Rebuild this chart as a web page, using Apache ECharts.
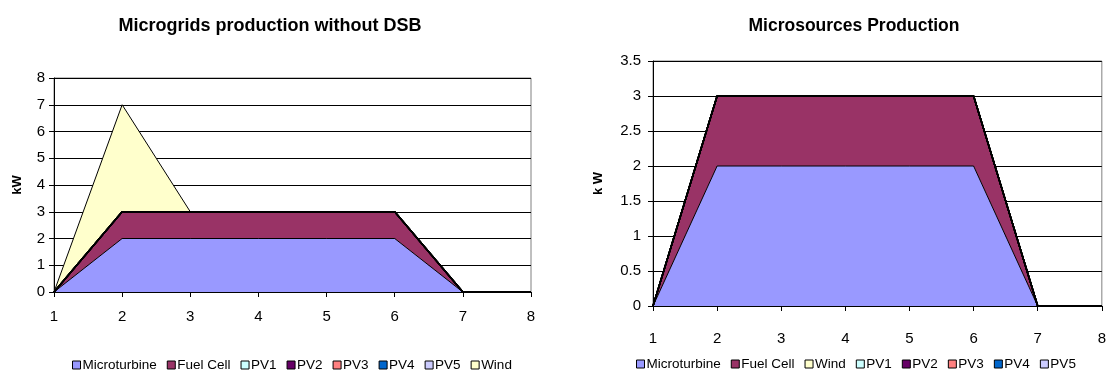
<!DOCTYPE html>
<html>
<head>
<meta charset="utf-8">
<script src="https://cdn.jsdelivr.net/npm/echarts@6/dist/echarts.min.js"></script>
<style>
  html, body { margin: 0; padding: 0; background: #fff; }
  #main { width: 1109px; height: 375px; }
</style>
</head>
<body>
<div id="main"></div>
<script>
// x categories (time steps)
const steps = ['1', '2', '3', '4', '5', '6', '7', '8'];

// left chart: Microgrids production without DSB
const microturbineL = [0, 2, 2, 2, 2, 2, 0, 0];
const fuelCellL = [0, 1, 1, 1, 1, 1, 0, 0];
const pv1L = [0, 0, 0, 0, 0, 0, 0, 0];
const pv2L = [0, 0, 0, 0, 0, 0, 0, 0];
const pv3L = [0, 0, 0, 0, 0, 0, 0, 0];
const pv4L = [0, 0, 0, 0, 0, 0, 0, 0];
const pv5L = [0, 0, 0, 0, 0, 0, 0, 0];
const windL = [0, 4, 0, 0, 0, 0, 0, 0];

// right chart: Microsources Production
const microturbineR = [0, 2, 2, 2, 2, 2, 0, 0];
const fuelCellR = [0, 1, 1, 1, 1, 1, 0, 0];
const windR = [0, 0, 0, 0, 0, 0, 0, 0];
const pv1R = [0, 0, 0, 0, 0, 0, 0, 0];
const pv2R = [0, 0, 0, 0, 0, 0, 0, 0];
const pv3R = [0, 0, 0, 0, 0, 0, 0, 0];
const pv4R = [0, 0, 0, 0, 0, 0, 0, 0];
const pv5R = [0, 0, 0, 0, 0, 0, 0, 0];

const legendLeft = ['Microturbine', 'Fuel Cell', 'PV1', 'PV2', 'PV3', 'PV4', 'PV5', 'Wind'];
const legendRight = ['Microturbine', 'Fuel Cell', 'Wind', 'PV1', 'PV2', 'PV3', 'PV4', 'PV5'];

const colors = {
  'Microturbine': '#9999FF',
  'Fuel Cell': '#993366',
  'PV1': '#CCFFFF',
  'PV2': '#660066',
  'PV3': '#FF8080',
  'PV4': '#0066CC',
  'PV5': '#CCCCFF',
  'Wind': '#FFFFCC'
};

const FONT = '"Liberation Sans", Arial, sans-serif';

function area(name, data, idx, stack, lw) {
  return {
    name: name,
    type: 'line',
    data: data,
    xAxisIndex: idx,
    yAxisIndex: idx,
    stack: stack,
    symbol: 'none',
    color: colors[name],
    itemStyle: { color: colors[name] },
    lineStyle: { color: '#000', width: lw || 1 },
    areaStyle: { color: colors[name], opacity: 1 },
    emphasis: { disabled: true },
    animation: false
  };
}

function xAxis(idx) {
  return {
    type: 'category',
    gridIndex: idx,
    data: steps,
    boundaryGap: false,
    axisLine: { lineStyle: { color: '#000', width: 1 } },
    axisTick: { show: true, length: 5, lineStyle: { color: '#000' } },
    axisLabel: { color: '#000', fontSize: 15, fontFamily: FONT, margin: idx === 0 ? 17 : 25 },
    splitLine: { show: false }
  };
}

function yAxis(idx, max, interval) {
  return {
    type: 'value',
    gridIndex: idx,
    min: 0,
    max: max,
    interval: interval,
    name: idx === 0 ? 'kW' : 'k W',
    nameLocation: 'middle',
    nameRotate: 90,
    nameGap: idx === 0 ? 30 : 48,
    nameTextStyle: { color: '#000', fontSize: 13, fontWeight: 'bold', fontFamily: FONT },
    axisLine: { show: true, lineStyle: { color: '#000', width: 1 } },
    axisTick: { show: true, length: 5, lineStyle: { color: '#000' } },
    axisLabel: { color: '#000', fontSize: 15, fontFamily: FONT, margin: idx === 0 ? 9 : 12 },
    splitLine: { show: true, lineStyle: { color: '#000', width: 1 } }
  };
}

const chart = echarts.init(document.getElementById('main'), null, { renderer: 'canvas' });

const series = [
  area('Microturbine', microturbineL, 0, 'L'),
  area('Fuel Cell', fuelCellL, 0, 'L', 1.5),
  area('PV1', pv1L, 0, 'L', 1.5),
  area('PV2', pv2L, 0, 'L', 1.5),
  area('PV3', pv3L, 0, 'L', 1.5),
  area('PV4', pv4L, 0, 'L', 1.5),
  area('PV5', pv5L, 0, 'L', 1.5),
  area('Wind', windL, 0, 'L'),
  area('Microturbine', microturbineR, 1, 'R'),
  area('Fuel Cell', fuelCellR, 1, 'R', 1.5),
  area('Wind', windR, 1, 'R', 1.5),
  area('PV1', pv1R, 1, 'R', 1.5),
  area('PV2', pv2R, 1, 'R', 1.5),
  area('PV3', pv3R, 1, 'R', 1.5),
  area('PV4', pv4R, 1, 'R', 1.5),
  area('PV5', pv5R, 1, 'R', 1.5)
];

const legendBase = {
  icon: 'rect',
  itemWidth: 8,
  itemHeight: 8,
  itemGap: 10,
  selectedMode: false,
  itemStyle: { borderColor: '#000', borderWidth: 1 },
  textStyle: { color: '#000', fontSize: 13.5, fontFamily: FONT, padding: [0, 0, 0, -3] }
};

chart.setOption({
  backgroundColor: '#fff',
  title: [
    { text: 'Microgrids production without DSB', left: 265, top: 12, textAlign: 'center',
      textStyle: { fontSize: 18, fontWeight: 'bold', color: '#000', fontFamily: FONT } },
    { text: 'Microsources Production', left: 849, top: 12, textAlign: 'center',
      textStyle: { fontSize: 17.5, fontWeight: 'bold', color: '#000', fontFamily: FONT } }
  ],
  legend: [
    Object.assign({ data: legendLeft, left: 67, top: 353 }, legendBase),
    Object.assign({ data: legendRight, left: 631, top: 352 }, legendBase)
  ],
  grid: [
    { left: 54, top: 78, width: 477, height: 214, show: true, borderColor: '#808080', borderWidth: 1, backgroundColor: 'transparent' },
    { left: 653, top: 61, width: 449, height: 245, show: true, borderColor: '#808080', borderWidth: 1, backgroundColor: 'transparent' }
  ],
  xAxis: [xAxis(0), xAxis(1)],
  yAxis: [yAxis(0, 8, 1), yAxis(1, 3.5, 0.5)],
  series: series
});
</script>
</body>
</html>
